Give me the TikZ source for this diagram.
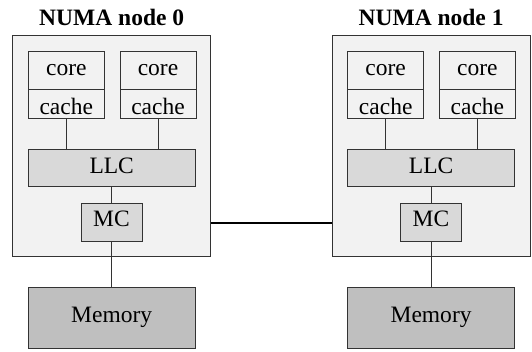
\documentclass[tikz,border=0pt]{standalone}
\usepackage{fontspec}
\setmainfont{Liberation Serif}
\definecolor{bordergray}{HTML}{333333}
\definecolor{outerfill}{HTML}{F2F2F2}
\definecolor{llcfill}{HTML}{D9D9D9}
\definecolor{memfill}{HTML}{BFBFBF}
\tikzset{
  box/.style={draw=bordergray, line width=1pt, inner sep=0pt, rectangle},
  outerbox/.style={box, fill=outerfill},
  corebox/.style={box, fill=outerfill},
  llcbox/.style={box, fill=llcfill},
  membox/.style={box, fill=memfill},
  lbl/.style={anchor=base, inner sep=0pt, font=\fontsize{23.5}{27}\selectfont},
  ttl/.style={anchor=base, inner sep=0pt, font=\fontsize{23.5}{28}\selectfont\bfseries},
  wire/.style={draw=bordergray, line width=0.8pt},
  link/.style={draw=black, line width=2pt}
}
\begin{document}
\begin{tikzpicture}[x=1pt,y=-1pt]
\useasboundingbox (0,0) rectangle (532,351);
\foreach \i/\dx in {0/0,1/319.4}{
  \begin{scope}[xshift=\dx pt]
  \node[ttl] (title\i) at (111.7,25) {NUMA node \i};
  \node[outerbox, minimum width=198pt, minimum height=221pt] (outer\i) at (111.7,145.5) {};
  \node[corebox, minimum width=76pt, minimum height=38pt] (corea\i) at (66.3,70) {};
  \node[corebox, minimum width=76pt, minimum height=29pt] (cachea\i) at (66.3,103.5) {};
  \node[corebox, minimum width=76pt, minimum height=38pt] (coreb\i) at (158,70) {};
  \node[corebox, minimum width=76pt, minimum height=29pt] (cacheb\i) at (158,103.5) {};
  \node[llcbox, minimum width=166.7pt, minimum height=36.7pt] (llc\i) at (111.7,168.3) {};
  \node[llcbox, minimum width=61pt, minimum height=38.4pt] (mc\i) at (111.5,222.5) {};
  \node[membox, minimum width=166.7pt, minimum height=60.6pt] (mem\i) at (111.7,318) {};
  \node[lbl] (tcorea\i) at (66.3,75) {core};
  \node[lbl] (tcachea\i) at (66.3,114.5) {cache};
  \node[lbl] (tcoreb\i) at (158,75) {core};
  \node[lbl] (tcacheb\i) at (158,114.5) {cache};
  \node[lbl] (tllc\i) at (111.7,173) {LLC};
  \node[lbl] (tmc\i) at (111.5,226.5) {MC};
  \node[lbl] (tmem\i) at (111.7,322) {Memory};
  \end{scope}
  \draw[wire] (cachea\i.south) -- (cachea\i.south |- llc\i.north);
  \draw[wire] (cacheb\i.south) -- (cacheb\i.south |- llc\i.north);
  \draw[wire] (llc\i.south -| mc\i.north) -- (mc\i.north);
  \draw[wire] (mc\i.south) -- (mem\i.north -| mc\i.south);
}
\draw[link] (outer0.east |- mc0.east) -- (outer1.west |- mc1.west);
\end{tikzpicture}
\end{document}
